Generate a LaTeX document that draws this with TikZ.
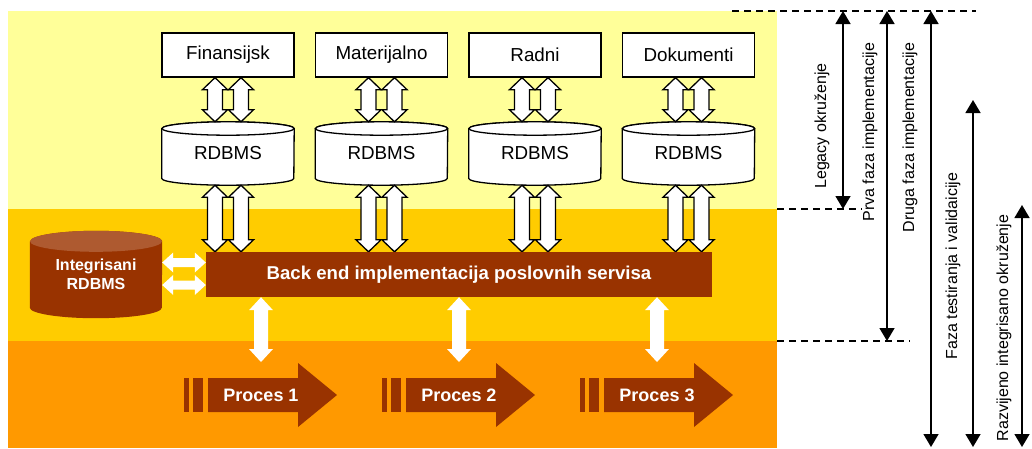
\documentclass[tikz,border=0pt]{standalone}
\usepackage{fontspec}
\setmainfont{Liberation Sans}
\usetikzlibrary{arrows.meta,calc}
\definecolor{ly}{HTML}{FFFF99}
\definecolor{my}{HTML}{FFCC00}
\definecolor{orb}{HTML}{FF9900}
\definecolor{br}{HTML}{993300}
\definecolor{brtop}{HTML}{AE5A30}
\pgfdeclarelayer{bg}
\pgfdeclarelayer{mid}
\pgfsetlayers{bg,mid,main}
% hollow vertical double arrow: #1 top point, #2 bottom point, #3 x offset
\newcommand{\hollowv}[3]{%
  \coordinate (T) at ($(#1)+(#3,0)$);
  \coordinate (B) at ($(#2)+(#3,0)$);
  \filldraw[hollow] (T) -- ++(12.5,12) -- ++(-5,0) -- ($(B)+(7.5,-12)$) -- ++(5,0) -- (B)
     -- ++(-12.5,-12) -- ++(5,0) -- ($(T)+(-7.5,12)$) -- ++(-5,0) -- cycle;}
% white vertical double arrow
\newcommand{\whitev}[2]{%
  \coordinate (T) at (#1);
  \coordinate (B) at (#2);
  \fill[white] (T) -- ++(12,13) -- ++(-5,0) -- ($(B)+(7,-13)$) -- ++(5,0) -- (B)
     -- ++(-12,-13) -- ++(5,0) -- ($(T)+(-7,13)$) -- ++(-5,0) -- cycle;}
% white horizontal double arrow
\newcommand{\whiteh}[2]{%
  \coordinate (T) at (#1);
  \coordinate (B) at (#2);
  \fill[white] (T) -- ++(11,-10) -- ++(0,5.5) -- ($(B)+(-11,-4.5)$) -- ++(0,-5.5) -- (B)
     -- ++(-11,10) -- ++(0,-5.5) -- ($(T)+(11,4.5)$) -- ++(0,5.5) -- cycle;}
% cylinder around node #1 : #2 side fill, #3 top fill, #4 ry, #5 draw option
\newcommand{\cyl}[5]{%
  \path[fill=#2,#5] ($(#1.north west)+(0,#4)$) -- ($(#1.south west)+(0,-#4)$)
     arc[start angle=180,end angle=360,x radius=66pt,y radius=#4pt]
     -- ($(#1.north east)+(0,#4)$) arc[start angle=0,end angle=180,x radius=66pt,y radius=#4pt] -- cycle;
  \path[fill=#3,#5] ($(#1.north)+(0,#4)$) ellipse[x radius=66pt,y radius=#4pt];}
% process arrow around coordinate #1
\newcommand{\procarrow}[1]{%
  \fill[br] ($(#1)+(-77,-17)$) rectangle ($(#1)+(-72,17)$);
  \fill[br] ($(#1)+(-68,-17)$) rectangle ($(#1)+(-58,17)$);
  \fill[br] ($(#1)+(-53,-17)$) -- ($(#1)+(37,-17)$) -- ($(#1)+(37,-32)$) -- ($(#1)+(76,0)$)
     -- ($(#1)+(37,32)$) -- ($(#1)+(37,17)$) -- ($(#1)+(-53,17)$) -- cycle;}
\tikzset{
  hollow/.style={fill=white,draw=black,line width=1.3pt,line join=miter},
  srcbox/.style={draw=black,fill=white,line width=1.3pt,minimum width=132pt,minimum height=44pt,
     inner sep=0pt,font=\fontsize{18.8}{20}\selectfont},
  dbnode/.style={minimum width=132pt,minimum height=63pt,inner sep=0pt,font=\fontsize{18.8}{20}\selectfont},
  proclabel/.style={text=white,font=\fontsize{18}{20}\selectfont\bfseries},
  dim/.style={line width=1.5pt,{Triangle[width=15pt,length=13pt]}-{Triangle[width=15pt,length=13pt]}},
  dimlabel/.style={rotate=90,font=\fontsize{16}{18}\selectfont},
  dashline/.style={line width=1.3pt,dash pattern=on 7pt off 5pt}
}
\begin{document}
\begin{tikzpicture}[x=1pt,y=-1pt]
\useasboundingbox (0,0) rectangle (1032,448);
\begin{pgfonlayer}{bg}
  \fill[white] (0,0) rectangle (1032,448);
  \fill[ly] (8,11) rectangle (777,209);
  \fill[my] (8,209) rectangle (777,341);
  \fill[orb] (8,341) rectangle (777,448);
\end{pgfonlayer}

% source boxes
\node[srcbox] (s1) at (228,55) {Finansijsk};
\node[srcbox] (s2) at (381.5,55) {Materijalno};
\node[srcbox] (s3) at (535,55) {Radni};
\node[srcbox] (s4) at (688.5,55) {Dokumenti};

% RDBMS cylinders
\node[dbnode] (d1) at (228,153.5) {RDBMS};
\node[dbnode] (d2) at (381.5,153.5) {RDBMS};
\node[dbnode] (d3) at (535,153.5) {RDBMS};
\node[dbnode] (d4) at (688.5,153.5) {RDBMS};

% back end
\node[fill=br,minimum width=506pt,minimum height=45pt,inner sep=0pt,text=white,
      font=\fontsize{18.6}{20}\selectfont\bfseries] (be) at (459,274.5)
      {Back end implementacija poslovnih servisa};

% integrated db
\node[minimum width=132pt,minimum height=87pt,inner sep=0pt,text=white,align=center,
      font=\fontsize{16}{19}\selectfont\bfseries] (idb) at (96,274.5) {Integrisani\\RDBMS};

% processes
\coordinate (pc1) at (261,395);
\coordinate (pc2) at (459,395);
\coordinate (pc3) at (657,395);
\node[proclabel] (p1) at (pc1) {Proces 1};
\node[proclabel] (p2) at (pc2) {Proces 2};
\node[proclabel] (p3) at (pc3) {Proces 3};
\coordinate (e1) at ($(pc1)+(0,-33)$);
\coordinate (e2) at ($(pc2)+(0,-33)$);
\coordinate (e3) at ($(pc3)+(0,-33)$);

\begin{pgfonlayer}{mid}
  \foreach \n in {d1,d2,d3,d4}{\cyl{\n}{white}{white}{6.7}{draw=black,line width=1.3pt}}
  \cyl{idb}{br}{brtop}{10.5}{draw=none}
  \foreach \i in {1,2,3,4}{
    \hollowv{s\i.south}{d\i.north}{-13}
    \hollowv{s\i.south}{d\i.north}{13}
    \hollowv{d\i.south}{be.north -| d\i}{-13}
    \hollowv{d\i.south}{be.north -| d\i}{13}
  }
  \whiteh{$(idb.east)+(0,-12)$}{$(be.west)+(0,-12)$}
  \whiteh{$(idb.east)+(0,10.5)$}{$(be.west)+(0,10.5)$}
  \whitev{be.south -| pc1}{e1}
  \whitev{be.south -| pc2}{e2}
  \whitev{be.south -| pc3}{e3}
  \procarrow{pc1}
  \procarrow{pc2}
  \procarrow{pc3}
\end{pgfonlayer}

% phase levels
\coordinate (dA1) at (732,11);  \coordinate (dA2) at (976,11);
\coordinate (dB1) at (777,209); \coordinate (dB2) at (862,209);
\coordinate (dC1) at (777,341); \coordinate (dC2) at (910,341);
\draw[dashline] (dA1) -- (dA2);
\draw[dashline] (dB1) -- (dB2);
\draw[dashline] (dC1) -- (dC2);

\coordinate (a1) at (843,11);  \coordinate (b1) at (843,209);
\coordinate (a2) at (887,11);  \coordinate (b2) at (887,341);
\coordinate (a3) at (931,11);  \coordinate (b3) at (931,447);
\coordinate (a4) at (973,100); \coordinate (b4) at (973,447);
\coordinate (a5) at (1022,205); \coordinate (b5) at (1022,447);
\draw[dim] (a1) -- (b1);
\draw[dim] (a2) -- (b2);
\draw[dim] (a3) -- (b3);
\draw[dim] (a4) -- (b4);
\draw[dim] (a5) -- (b5);

\node[dimlabel] (l1) at (822,126) {Legacy okruženje};
\node[dimlabel] (l2) at (870,132) {Prva faza implementacije};
\node[dimlabel] (l3) at (910,137.5) {Druga faza implementacije};
\node[dimlabel] (l4) at (953,266) {Faza testiranja i validaicije};
\node[dimlabel] (l5) at (1004,328) {Razvijeno integrisano okruženje};
\end{tikzpicture}
\end{document}
